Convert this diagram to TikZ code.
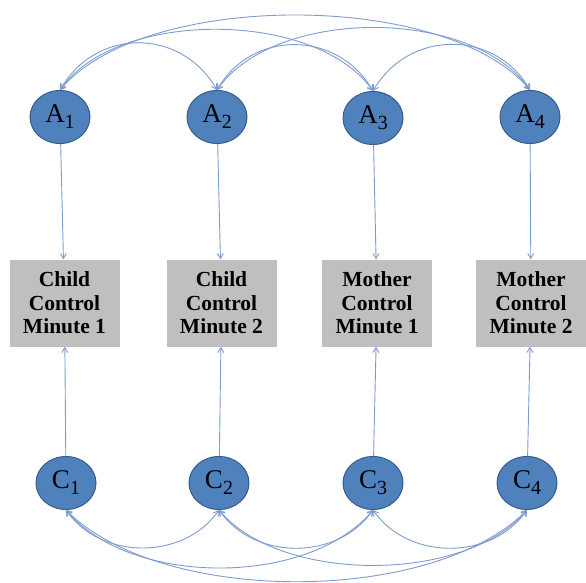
\documentclass[tikz,border=0pt]{standalone}
\usepackage{fontspec}
\setmainfont{Liberation Serif}
\usetikzlibrary{shapes.geometric,arrows.meta}
\definecolor{nodeblue}{HTML}{4F81BD}
\definecolor{nodeedge}{HTML}{385D8A}
\definecolor{boxgray}{HTML}{BFBFBF}
\definecolor{linkblue}{RGB}{125,156,206}
\newcommand\latlab[2]{#1\raisebox{-6pt}{\fontsize{20}{20}\selectfont #2}}
\begin{document}
\begin{tikzpicture}[x=1pt,y=1pt,
 latent/.style={ellipse, fill=nodeblue, draw=nodeedge, line width=1pt, minimum width=60pt, minimum height=53pt, inner sep=0pt, font=\fontsize{27}{27}\selectfont},
 obsbox/.style={rectangle, fill=boxgray, minimum width=110pt, minimum height=87pt, align=center, inner sep=0pt, font=\fontsize{21.5}{23.5}\selectfont\bfseries},
 link/.style={draw=linkblue, line width=0.9pt, -{Straight Barb[length=5pt,width=6pt]}},
 cov/.style={draw=linkblue, line width=0.9pt, {Straight Barb[length=5pt,width=6pt]}-{Straight Barb[length=5pt,width=6pt]}}]
\useasboundingbox (0,0) rectangle (586,-583);

\node[latent] (A1) at (60,-117) {\latlab{A}{1}};
\node[latent] (A2) at (217,-117) {\latlab{A}{2}};
\node[latent] (A3) at (373,-118) {\latlab{A}{3}};
\node[latent] (A4) at (530,-117) {\latlab{A}{4}};

\node[obsbox] (B1) at (64.5,-303) {Child\\Control\\Minute 1};
\node[obsbox] (B2) at (221.5,-303) {Child\\Control\\Minute 2};
\node[obsbox] (B3) at (377,-303) {Mother\\Control\\Minute 1};
\node[obsbox] (B4) at (531,-303) {Mother\\Control\\Minute 2};

\node[latent] (C1) at (66,-483) {\latlab{C}{1}};
\node[latent] (C2) at (219,-483) {\latlab{C}{2}};
\node[latent] (C3) at (373,-483) {\latlab{C}{3}};
\node[latent] (C4) at (527,-483) {\latlab{C}{4}};

\foreach \i in {1,2,3,4} {
  \draw[link] (A\i) -- (B\i);
  \draw[link] (C\i) -- (B\i);
}

% covariances among A
\draw[cov] (A1.north) to[out=60,in=120,looseness=1.18] (A2.north);
\draw[cov] (A2.north) to[out=60,in=120,looseness=1.15] (A3.north);
\draw[cov] (A3.north) to[out=60,in=120,looseness=1.15] (A4.north);
\draw[cov] (A1.north) to[out=55,in=125,looseness=0.81] (A3.north);
\draw[cov] (A2.north) to[out=55,in=125,looseness=0.83] (A4.north);
\draw[cov] (A1.north) to[out=50,in=130,looseness=0.71] (A4.north);

% covariances among C
\draw[cov] (C1.south) to[out=-55,in=-125,looseness=1.03] (C2.south);
\draw[cov] (C2.south) to[out=-55,in=-125,looseness=1.03] (C3.south);
\draw[cov] (C3.south) to[out=-55,in=-125,looseness=1.03] (C4.south);
\draw[cov] (C1.south) to[out=-50,in=-130,looseness=0.84] (C3.south);
\draw[cov] (C2.south) to[out=-50,in=-130,looseness=0.80] (C4.south);
\draw[cov] (C1.south) to[out=-45,in=-135,looseness=0.75] (C4.south);
\end{tikzpicture}
\end{document}
